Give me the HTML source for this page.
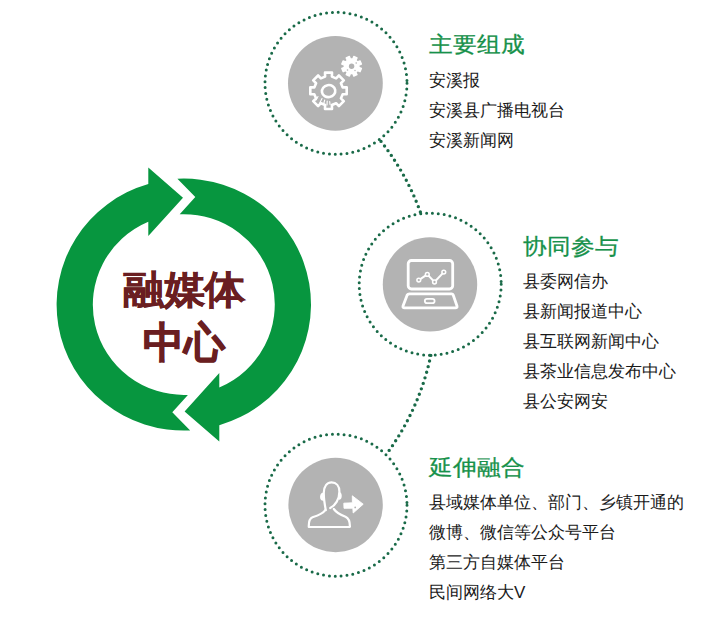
<!DOCTYPE html>
<html><head><meta charset="utf-8">
<style>
html,body{margin:0;padding:0;background:#fff;}
body{width:724px;height:617px;position:relative;overflow:hidden;font-family:"Liberation Sans",sans-serif;}
svg{position:absolute;left:0;top:0;}
.t{position:absolute;white-space:nowrap;color:#1a1a1a;font-size:17px;line-height:20px;}
.h{position:absolute;white-space:nowrap;color:#17914a;-webkit-text-stroke:0.3px #17914a;font-size:24px;line-height:28px;transform:scaleY(0.93);transform-origin:0 0;}
.big{position:absolute;white-space:nowrap;color:#6a1e21;font-size:42px;font-weight:bold;-webkit-text-stroke:1px #6a1e21;line-height:50px;text-align:center;transform:scale(0.975,0.92);transform-origin:50% 0;}
</style></head>
<body>
<svg width="724" height="617" viewBox="0 0 724 617">
  <!-- connector arc -->
  <g fill="none" stroke="#196a48" stroke-linecap="round">
    <path d="M381,141.4 A254,254 0 0 1 420.6,212.7" stroke-width="3.4" stroke-dasharray="0 5.8"/>
    <path d="M430.8,355.4 A254,254 0 0 1 387.3,453" stroke-width="3.4" stroke-dasharray="0 5.8"/>
    <circle cx="336" cy="83.3" r="71" stroke-width="3.0" stroke-dasharray="0 5.9"/>
    <circle cx="430.2" cy="284.2" r="71" stroke-width="3.0" stroke-dasharray="0 5.9"/>
    <circle cx="336" cy="505.2" r="71" stroke-width="3.0" stroke-dasharray="0 5.9"/>
  </g>
  <g fill="#b3b3b3">
    <circle cx="335.4" cy="83.3" r="47.4"/>
    <circle cx="430" cy="284.4" r="47.2"/>
    <circle cx="335.6" cy="505" r="47.2"/>
  </g>

  <!-- icon 1: gears -->
  <g fill="none" stroke="#fff" stroke-linejoin="round" stroke-linecap="round">
    <path d="M325.1,76.6L325.0,72.6L332.0,72.6L331.9,76.6L336.1,78.4L338.9,75.5L343.8,80.4L340.9,83.2L342.7,87.4L346.7,87.3L346.7,94.3L342.7,94.2L340.9,98.4L343.8,101.2L338.9,106.1L336.1,103.2L331.9,105.0L332.0,109.0L325.0,109.0L325.1,105.0L320.9,103.2L318.1,106.1L313.2,101.2L316.1,98.4L314.3,94.2L310.3,94.3L310.3,87.3L314.3,87.4L316.1,83.2L313.2,80.4L318.1,75.5L320.9,78.4Z" stroke-width="2.6"/>
    <ellipse cx="328.6" cy="91.1" rx="6.7" ry="6.0" stroke-width="2.6" transform="rotate(-10 328.6 91.1)"/>
    <path d="M352.8,59.0L353.8,56.5L357.0,57.9L355.9,60.3L357.6,62.0L360.0,60.9L361.4,64.1L358.9,65.1L358.9,67.5L361.4,68.5L360.0,71.7L357.6,70.6L355.9,72.3L357.0,74.7L353.8,76.1L352.8,73.6L350.4,73.6L349.4,76.1L346.2,74.7L347.3,72.3L345.6,70.6L343.2,71.7L341.8,68.5L344.3,67.5L344.3,65.1L341.8,64.1L343.2,60.9L345.6,62.0L347.3,60.3L346.2,57.9L349.4,56.5L350.4,59.0Z" fill="#fff" stroke-width="1.4"/>
    <circle cx="351.6" cy="66.3" r="2.7" fill="#b3b3b3" stroke="none"/>
    <g fill="#b3b3b3" stroke="none"><circle cx="356.2" cy="63" r="0.8"/><circle cx="347.5" cy="70" r="0.8"/><circle cx="355" cy="70.5" r="0.7"/></g>
    <path d="M316,100 l2,-3.5 M319.5,103.5 l2.5,-5 M323.5,104.5 l1.2,-4.5 M327,105 l0.2,-4 M330,104.5 l-0.3,-3" stroke-width="1.1"/>
  </g>
  <!-- icon 2: laptop -->
  <g fill="none" stroke="#fff" stroke-linejoin="round" stroke-linecap="round">
    <rect x="408.2" y="260.5" width="44.5" height="28.5" rx="3.2" stroke-width="2.8"/>
    <polyline points="418.8,280.1 427.3,274.4 434.5,282 443.8,272.1" stroke-width="2.0"/>
    <g fill="#b3b3b3" stroke-width="1.5">
      <circle cx="418.8" cy="280.1" r="1.9"/><circle cx="427.3" cy="274.4" r="1.9"/>
      <circle cx="434.5" cy="282" r="1.9"/><circle cx="443.8" cy="272.1" r="1.9"/>
    </g>
    <path d="M409.5,293.8 L451.5,293.8 Q452.8,293.8 453.2,295 L457,306 Q457.5,307.8 455.5,307.8 L404.5,307.8 Q402.5,307.8 403,306 L407.2,295 Q407.8,293.8 409.5,293.8 Z" stroke-width="2.8"/>
    <rect x="424.8" y="298.8" width="9.8" height="4.4" rx="2.2" stroke-width="1.8"/>
  </g>
  <!-- icon 3: person -->
  <g fill="none" stroke="#fff" stroke-linejoin="round" stroke-linecap="round" stroke-width="2.2">
    <path d="M325.8,510.2 C324.8,505 323.6,499 323.8,492.5 C324.1,486 327.2,482.3 331.6,482.3 C336.3,482.3 339.4,486 339.4,491.5 C339.4,499 335.5,505.5 330.2,508"/>
    <path d="M325.3,510 C323.5,513 318,515.5 312.5,517.2 C309.5,518.4 308.6,521.5 308.8,527 L349.9,526.8 C350,522 349,518.4 345.5,516.8 C341,515 336.6,513 333.8,509"/>
  </g>
  <g fill="#fff">
    <path d="M323.8,492.5 C320.5,492.5 319.6,496 320.3,498.5 C320.9,500.5 322.5,501 324,500.5 Z"/>
    <path d="M339.4,492 C341.8,492.5 342.2,496 341.4,498 C340.8,499.5 339.8,500 338.6,499.5 Z"/>
  </g>
  <path d="M343.8,503.2 L352.4,502.8 L352.3,495.8 L363.2,504.2 L353.2,513 L352.8,508.2 L344,508.3 Z" fill="#fff" stroke="#fff" stroke-width="0.9" stroke-linejoin="round"/>
  <circle cx="355.2" cy="507.4" r="0.9" fill="#b3b3b3"/>
  <!-- ring -->
  <g fill="#07963f">
    <path id="arc" transform="translate(0,0.4)" d="M177.4,178.36 A127.2,125.8 0 0 1 219.3,424.8 L219.3,441.2 L184.6,411 L219.3,372.7 L219.3,387.05 A91,90.2 0 0 0 179.7,213.9 L195.3,196.5 Z"/>
    <use href="#arc" transform="translate(0,1.2) rotate(180 183.8 304)"/>
  </g>
</svg>

<div class="big" style="left:83px;top:267.3px;width:202px;-webkit-text-stroke:0.5px #6a1e21;">融媒体</div>
<div class="big" style="left:83px;top:317.7px;width:202px;transform:scale(0.975,1);">中心</div>

<div class="h" style="left:429px;top:31.5px;">主要组成</div>
<div class="t" style="left:429px;top:71px;">安溪报</div>
<div class="t" style="left:429px;top:101px;">安溪县广播电视台</div>
<div class="t" style="left:429px;top:131px;">安溪新闻网</div>

<div class="h" style="left:523px;top:233.5px;">协同参与</div>
<div class="t" style="left:523px;top:272px;">县委网信办</div>
<div class="t" style="left:523px;top:302px;">县新闻报道中心</div>
<div class="t" style="left:523px;top:332px;">县互联网新闻中心</div>
<div class="t" style="left:523px;top:362px;">县茶业信息发布中心</div>
<div class="t" style="left:523px;top:392px;">县公安网安</div>

<div class="h" style="left:429px;top:454.5px;">延伸融合</div>
<div class="t" style="left:429px;top:493px;">县域媒体单位、部门、乡镇开通的</div>
<div class="t" style="left:429px;top:523px;">微博、微信等公众号平台</div>
<div class="t" style="left:429px;top:553px;">第三方自媒体平台</div>
<div class="t" style="left:429px;top:583px;">民间网络大V</div>
</body></html>
